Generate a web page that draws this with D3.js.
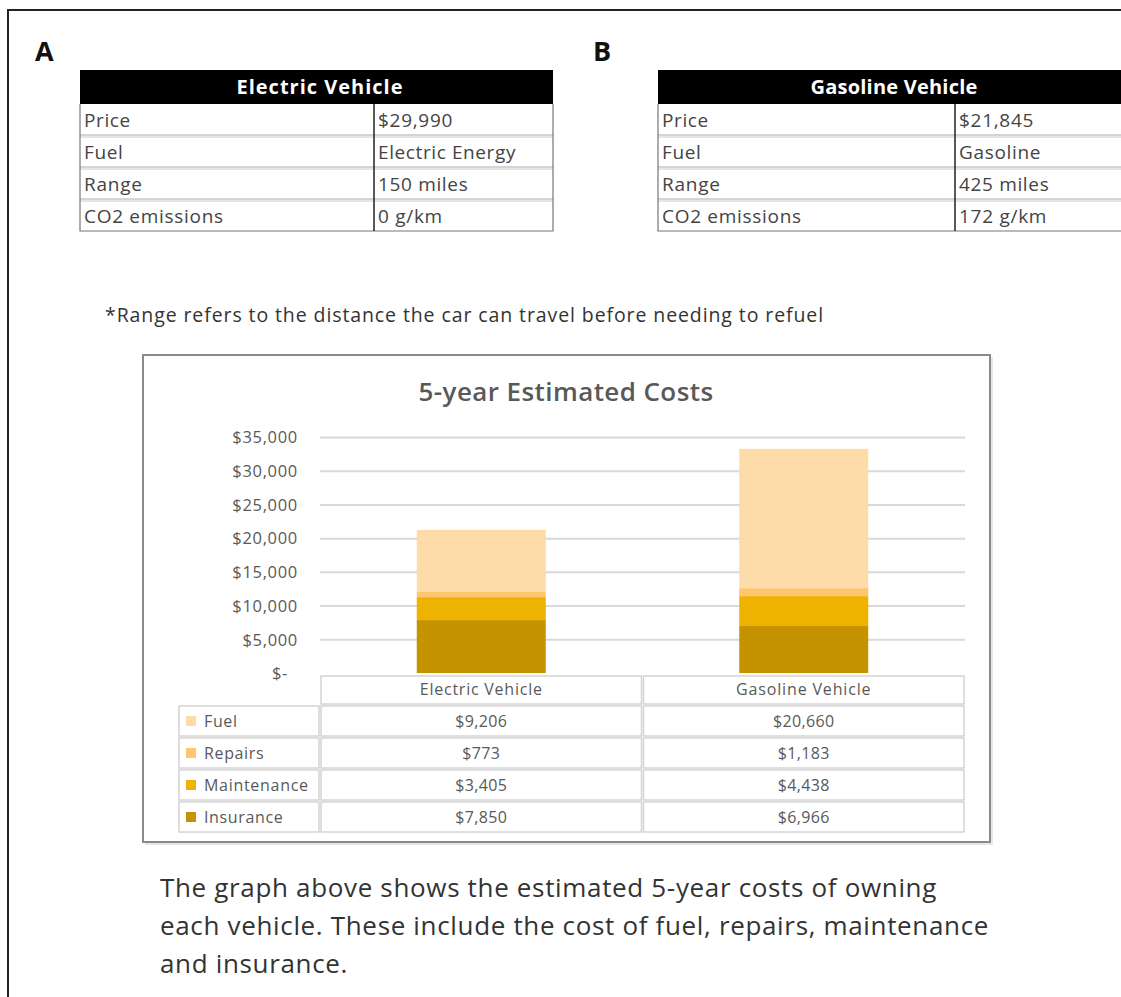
<!DOCTYPE html>
<html><head><meta charset="utf-8">
<script src="https://cdn.jsdelivr.net/npm/d3@7"></script>
<style>
html,body{margin:0;padding:0;background:#fff;}
svg{display:block;}
text{font-family:"Open Sans",Lato,sans-serif;}
</style></head>
<body>
<svg id="c" width="1121" height="997"></svg>
<script>
// ---- data ----
const categories = ["Electric Vehicle", "Gasoline Vehicle"];
const seriesNames = ["Fuel", "Repairs", "Maintenance", "Insurance"];
const fuel = [9206, 20660];
const repairs = [773, 1183];
const maintenance = [3405, 4438];
const insurance = [7850, 6966];
const yTicks = [0, 5000, 10000, 15000, 20000, 25000, 30000, 35000];
const specLabels = ["Price", "Fuel", "Range", "CO2 emissions"];
const evSpecs = ["$29,990", "Electric Energy", "150 miles", "0 g/km"];
const gvSpecs = ["$21,845", "Gasoline", "425 miles", "172 g/km"];
const chartTitle = "5-year Estimated Costs";
const footnote = "*Range refers to the distance the car can travel before needing to refuel";
const paragraph = ["The graph above shows the estimated 5-year costs of owning",
  "each vehicle. These include the cost of fuel, repairs, maintenance",
  "and insurance."];
const seriesColors = {Fuel: "#FDDCAA", Repairs: "#FEC76F", Maintenance: "#EEB200", Insurance: "#C69300"};

const svg = d3.select("#c");
const seriesValues = {Fuel: fuel, Repairs: repairs, Maintenance: maintenance, Insurance: insurance};
const fmt = d3.format("$,");

// stretch text to the width it has in the reference
function fitTo(sel, target) {
  sel.each(function () {
    const n = this.textContent.length;
    const len = this.getComputedTextLength();
    d3.select(this).attr("letter-spacing", ((target - len) / n).toFixed(3));
  });
  return sel;
}
function widen(sel, f) {
  sel.each(function () {
    const n = this.textContent.length;
    if (!n) return;
    const len = this.getComputedTextLength();
    d3.select(this).attr("letter-spacing", (len * (f - 1) / n).toFixed(3));
  });
  return sel;
}

// outer frame
svg.append("path").attr("d", "M8,997 V10 H1121").attr("fill", "none").attr("stroke", "#222").attr("stroke-width", 2);

// ---- spec tables ----
function specTable(x0, x1, xs, title, titleX, labels, vals, letter, lx) {
  const g = svg.append("g");
  g.append("text").attr("x", lx).attr("y", 61).attr("font-size", 27).attr("font-weight", 700)
    .attr("fill", "#111").text(letter);
  const top = 70, hH = 34, rH = 32;
  g.append("rect").attr("x", x0).attr("y", top).attr("width", x1 - x0).attr("height", hH).attr("fill", "#000");
  fitTo(g.append("text").attr("x", titleX).attr("y", top + hH / 2 + 7).attr("text-anchor", "middle")
    .attr("font-size", 20).attr("font-weight", 700).attr("fill", "#fff").text(title), 167);
  const y0 = top + hH;
  const yb = y0 + rH * labels.length - 1;
  labels.forEach((l, i) => {
    const y = y0 + i * rH;
    if (i > 0) {
      g.append("line").attr("x1", x0).attr("x2", x1).attr("y1", y - 1).attr("y2", y - 1).attr("stroke", "#aaa");
      g.append("line").attr("x1", x0).attr("x2", x1).attr("y1", y + 1).attr("y2", y + 1).attr("stroke", "#ccc");
    }
    widen(g.append("text").attr("x", x0 + 4).attr("y", y + 23).attr("font-size", 19).attr("fill", "#444").text(l), 1.07);
    widen(g.append("text").attr("x", xs + 4).attr("y", y + 23).attr("font-size", 19).attr("fill", "#444").text(vals[i]), 1.07);
  });
  g.append("path").attr("d", `M${x1},${y0} V${yb} H${x0} V${y0}`).attr("fill", "none").attr("stroke", "#777").attr("stroke-width", 1.2);
  g.append("line").attr("x1", xs).attr("x2", xs).attr("y1", y0).attr("y2", yb).attr("stroke", "#222").attr("stroke-width", 1.5);
}
specTable(80, 553, 374, "Electric Vehicle", 320, specLabels, evSpecs, "A", 35);
specTable(658, 1180, 955, "Gasoline Vehicle", 894, specLabels, gvSpecs, "B", 593);

fitTo(svg.append("text").attr("x", 105).attr("y", 322).attr("font-size", 19.5).attr("fill", "#333").text(footnote), 719);

// ---- chart box ----
svg.append("rect").attr("x", 145).attr("y", 357).attr("width", 848).attr("height", 488).attr("fill", "#e6e6e6");
svg.append("rect").attr("x", 143).attr("y", 355).attr("width", 847).attr("height", 487)
  .attr("fill", "#fff").attr("stroke", "#8a8a8a").attr("stroke-width", 2);

fitTo(svg.append("text").attr("x", 566).attr("y", 401).attr("text-anchor", "middle").attr("font-size", 26)
  .attr("font-weight", 600).attr("fill", "#595959").text(chartTitle), 295);

const x = d3.scaleBand().domain(categories).range([320, 965]).padding(0);
const y = d3.scaleLinear().domain([0, 35000]).range([673, 437]);

// gridlines
svg.append("g").attr("transform", "translate(320,0)")
  .call(d3.axisLeft(y).tickValues(yTicks.filter(d => d > 0)).tickSize(-645).tickFormat(""))
  .call(g => g.select(".domain").remove())
  .call(g => g.selectAll("line").attr("stroke", "#d9d9d9").attr("stroke-width", 2));

// y labels
svg.append("g").attr("transform", "translate(298,0)")
  .call(d3.axisLeft(y).tickValues(yTicks).tickSize(0).tickPadding(0)
    .tickFormat(d => d === 0 ? "$-" : fmt(d)))
  .call(g => g.select(".domain").remove())
  .call(g => widen(g.selectAll("text").attr("font-family", "'Open Sans',sans-serif").attr("font-size", 16.5)
    .attr("fill", "#595959").attr("dy", "0.35em")
    .attr("dx", d => d === 0 ? -10 : 0), 1.08));

// stacked bars
const rows = categories.map((c, i) => {
  const o = {category: c};
  seriesNames.forEach(s => o[s] = seriesValues[s][i]);
  return o;
});
const stack = d3.stack().keys(["Insurance", "Maintenance", "Repairs", "Fuel"])(rows);
const bw = x.bandwidth() * 0.4;
svg.append("g").selectAll("g").data(stack).join("g").attr("fill", d => seriesColors[d.key])
  .selectAll("rect").data(d => d).join("rect")
  .attr("x", d => x(d.data.category) + (x.bandwidth() - bw) / 2)
  .attr("width", bw)
  .attr("y", d => y(d[1]))
  .attr("height", d => y(d[0]) - y(d[1]));

// ---- data table ----
const dt = svg.append("g");
const rowTop = 675, hdrH = 30, rowH = 32, legX0 = 178;
function cell(x0, y0, w, h) {
  dt.append("rect").attr("x", x0 + 1).attr("y", y0 + 1).attr("width", w - 2).attr("height", h - 2)
    .attr("fill", "#fff").attr("stroke", "#d4d4d4").attr("stroke-width", 1.5);
}
categories.forEach(c => cell(x(c), rowTop, x.bandwidth(), hdrH));
categories.forEach(c => {
  widen(dt.append("text").attr("x", x(c) + x.bandwidth() / 2).attr("y", rowTop + 20).attr("text-anchor", "middle")
    .attr("font-size", 16).attr("fill", "#595959").text(c), 1.11);
});
seriesNames.forEach((s, i) => {
  const ry = rowTop + hdrH + i * rowH;
  cell(legX0, ry, 320 - legX0, rowH);
  dt.append("rect").attr("x", 186).attr("y", ry + 11).attr("width", 10).attr("height", 10).attr("fill", seriesColors[s]);
  widen(dt.append("text").attr("x", 204).attr("y", ry + 21.5).attr("font-size", 16).attr("fill", "#595959").text(s), 1.08);
  categories.forEach((c, j) => {
    cell(x(c), ry, x.bandwidth(), rowH);
    widen(dt.append("text").attr("x", x(c) + x.bandwidth() / 2).attr("y", ry + 21.5).attr("text-anchor", "middle")
      .attr("font-size", 16).attr("fill", "#595959").text(fmt(seriesValues[s][j])), 1.04);
  });
});

// ---- paragraph ----
const para = paragraph.map((t, i) =>
  svg.append("text").attr("x", 160).attr("y", 897 + i * 38).attr("font-size", 26).attr("fill", "#333").text(t));
const l0 = para[0].node().getComputedTextLength();
const ls = ((777 - l0) / paragraph[0].length).toFixed(3);
para.forEach(p => p.attr("letter-spacing", ls));
</script>
</body></html>
